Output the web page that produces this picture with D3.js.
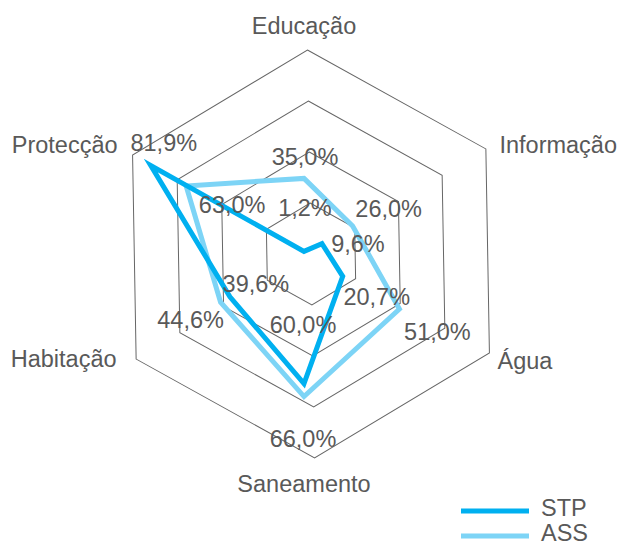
<!DOCTYPE html>
<html>
<head>
<meta charset="utf-8">
<script src="https://cdn.jsdelivr.net/npm/d3@7"></script>
<style>
  body { margin: 0; background: #fff; }
  svg text { font-family: "Liberation Sans", Arial, sans-serif; fill: #595959; }
</style>
</head>
<body>
<svg id="chart" width="620" height="545"></svg>
<script>
const categories = ["Educação", "Informação", "Água", "Saneamento", "Habitação", "Protecção"];
const stpValues = [1.2, 9.6, 20.7, 60.0, 39.6, 81.9];
const assValues = [35.0, 26.0, 51.0, 66.0, 44.6, 63.0];
const seriesNames = ["STP", "ASS"];
const gridLevels = [25, 50, 75, 100];

// label nudges (dx, dy to baseline) relative to their anchor point
const stpLabelNudge = [[1, -35], [36, 8], [34, 29], [-1, -51], [26, -5], [13, -15]];
const assLabelNudge = [[1, -13], [36, -9], [38, 31], [-1, 50], [-30, 26], [46, 27]];
const catLabelNudge = [[0, 8], [-2, 13], [-4, 1], [0, 10], [10, -1], [11, 13]];

const colors = { STP: "#00B0F0", ASS: "#7DD4F6" };

var svg = d3.select("#chart");

var cx = 304, cy = 254;
var gx = 311, gy = 254;

var r = d3.scaleLinear().domain([0, 100]).range([0, 216]);
var gridR = d3.scaleLinear().domain([0, 100]).range([0, 204]);
var angle = d3.scaleLinear().domain([0, categories.length]).range([0, 2 * Math.PI]);

var pct = d3.formatLocale({ decimal: ",", thousands: ".", grouping: [3], currency: ["", ""] }).format(".1f");

function pointAt(i, radius) {
  var a = angle(i);
  return [cx + radius * Math.sin(a), cy - radius * Math.cos(a)];
}

// grid rings
var grid = svg.append("g")
  .attr("transform", "translate(" + gx + "," + gy + ") rotate(-1)");

var ring = d3.lineRadial()
  .angle((d, i) => angle(i))
  .radius(d => gridR(d))
  .curve(d3.curveLinearClosed);

grid.selectAll(".ring")
  .data(gridLevels)
  .enter().append("path")
  .attr("class", "ring")
  .attr("d", lvl => ring(categories.map(() => lvl)))
  .attr("fill", "none")
  .attr("stroke", "#666666")
  .attr("stroke-width", 1);

// series
var plot = svg.append("g").attr("transform", "translate(" + cx + "," + cy + ")");

var line = d3.lineRadial()
  .angle((d, i) => angle(i))
  .radius(d => r(d))
  .curve(d3.curveLinearClosed);

var series = [
  { name: "ASS", values: assValues, nudge: assLabelNudge },
  { name: "STP", values: stpValues, nudge: stpLabelNudge }
];

plot.selectAll(".series")
  .data(series)
  .enter().append("path")
  .attr("class", "series")
  .attr("d", d => line(d.values))
  .attr("fill", "none")
  .attr("stroke", d => colors[d.name])
  .attr("stroke-width", 5)
  .attr("stroke-linejoin", "miter")
  .attr("stroke-miterlimit", 10);

// value labels
series.forEach(function(s) {
  svg.selectAll(".lbl-" + s.name)
    .data(s.values)
    .enter().append("text")
    .attr("class", "lbl-" + s.name)
    .attr("x", (v, i) => pointAt(i, r(v))[0] + s.nudge[i][0])
    .attr("y", (v, i) => pointAt(i, r(v))[1] + s.nudge[i][1])
    .attr("text-anchor", "middle")
    .style("font-size", "23.5px")
    .text(v => pct(v) + "%");
});

// category labels
svg.selectAll(".cat")
  .data(categories)
  .enter().append("text")
  .attr("class", "cat")
  .attr("x", (c, i) => pointAt(i, r(100) + 12)[0] + catLabelNudge[i][0])
  .attr("y", (c, i) => pointAt(i, r(100) + 12)[1] + catLabelNudge[i][1])
  .attr("text-anchor", (c, i) => {
    var s = Math.sin(angle(i));
    return s > 0.1 ? "start" : (s < -0.1 ? "end" : "middle");
  })
  .style("font-size", "23.5px")
  .text(c => c);

// legend
var legend = svg.append("g").attr("transform", "translate(461,511)");
var item = legend.selectAll(".item")
  .data(seriesNames)
  .enter().append("g")
  .attr("class", "item")
  .attr("transform", (d, i) => "translate(0," + i * 25 + ")");

item.append("line")
  .attr("x1", 0).attr("x2", 68)
  .attr("stroke", d => colors[d])
  .attr("stroke-width", 5);

item.append("text")
  .attr("x", 80)
  .attr("y", 5)
  .style("font-size", "23.5px")
  .text(d => d);
</script>
</body>
</html>
